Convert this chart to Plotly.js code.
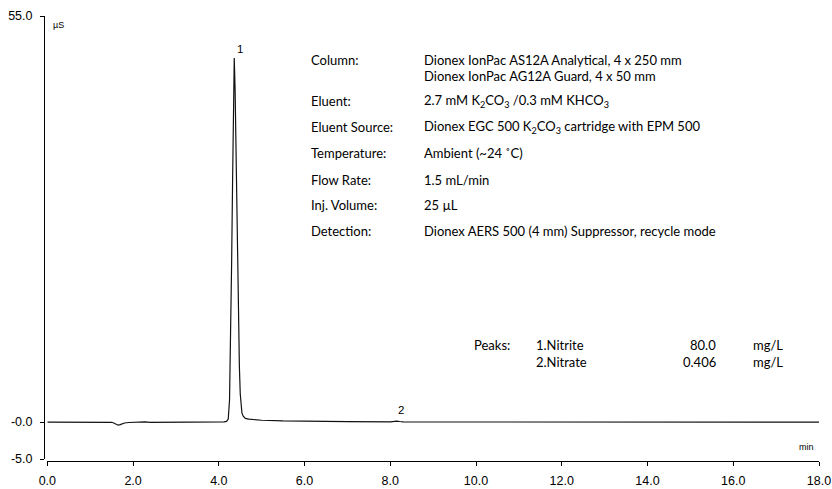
<!DOCTYPE html>
<html>
<head>
<meta charset="utf-8">
<script src="https://cdn.plot.ly/plotly-3.0.1.min.js"></script>
<style>html,body{margin:0;padding:0;background:#fff;}#chart{width:832px;height:489px;}</style>
</head>
<body>
<div id="chart"></div>
<script>
// Chromatogram (time in min, signal in µS)
var timeMin = [0.0, 0.5, 1.0, 1.4, 1.5, 1.55, 1.6, 1.65, 1.7, 1.75, 1.8, 1.9, 2.0, 2.1, 2.17, 2.22, 2.28, 2.4, 2.7, 3.0, 3.5, 4.0, 4.12, 4.18, 4.22, 4.25, 4.28, 4.30, 4.32, 4.34, 4.36, 4.38, 4.40, 4.42, 4.44, 4.46, 4.48, 4.50, 4.52, 4.54, 4.57, 4.62, 4.70, 4.85, 5.0, 5.5, 6.0, 7.0, 8.0, 8.08, 8.15, 8.22, 8.3, 9.0, 10.0, 12.0, 14.0, 16.0, 18.0];
var signalUS = [0.0, 0.0, 0.0, 0.0, -0.03, -0.12, -0.3, -0.42, -0.35, -0.22, -0.12, -0.06, -0.04, -0.03, 0.05, 0.09, 0.02, -0.03, -0.03, -0.02, -0.01, 0.0, 0.03, 0.1, 0.4, 3.0, 12.0, 22.0, 32.0, 43.0, 49.3, 45.0, 36.0, 28.0, 20.0, 13.0, 7.5, 3.8, 2.0, 1.2, 0.8, 0.5, 0.4, 0.3, 0.25, 0.15, 0.1, 0.05, 0.03, 0.08, 0.14, 0.08, 0.03, 0.01, 0.0, 0.0, 0.0, 0.0, 0.0];

var yTickVals = [-5, 0, 55];
var yTickText = ["-5.0", "-0.0", "55.0"];

var peakLabels = ["1", "2"];
var peakTimes = [4.36, 8.15];
var peakHeights = [49.3, 0.14];

var condLabels = ["Column:", "Eluent:", "Eluent Source:", "Temperature:", "Flow Rate:", "Inj. Volume:", "Detection:"];
var condValues = [
  "Dionex IonPac AS12A Analytical, 4 x 250 mm",
  "2.7 mM K<sub>2</sub>CO<sub>3</sub> /0.3 mM KHCO<sub>3</sub>",
  "Dionex EGC 500 K<sub>2</sub>CO<sub>3</sub> cartridge with EPM 500",
  "Ambient (~24 ˚C)",
  "1.5 mL/min",
  "25 µL",
  "Dionex AERS 500 (4 mm) Suppressor, recycle mode"
];
var condExtra = "Dionex IonPac AG12A Guard, 4 x 50 mm";
var peakNames = ["1.Nitrite", "2.Nitrate"];
var peakAmounts = ["80.0", "0.406"];
var peakUnits = ["mg/L", "mg/L"];

// layout helpers: pixel -> paper
var L = 44, R = 819, T = 16, B = 461;
function px(x){ return (x - L) / (R - L); }
function py(y){ return (B - y) / (B - T); }

var infoFont = {family: "Lato, 'Open Sans', sans-serif", size: 13, color: "#000"};
var ann = [];
var rowY = [60, 101, 127, 153, 180, 205, 231];
for (var i = 0; i < condLabels.length; i++) {
  ann.push({xref:"paper", yref:"paper", x:px(309), y:py(rowY[i]), xanchor:"left", yanchor:"middle", showarrow:false, text:condLabels[i], font:infoFont});
  ann.push({xref:"paper", yref:"paper", x:px(422), y:py(rowY[i]), xanchor:"left", yanchor:"middle", showarrow:false, text:condValues[i], font:infoFont});
}
ann.push({xref:"paper", yref:"paper", x:px(422), y:py(76), xanchor:"left", yanchor:"middle", showarrow:false, text:condExtra, font:infoFont});

ann.push({xref:"paper", yref:"paper", x:px(512), y:py(345), xanchor:"right", yanchor:"middle", showarrow:false, text:"Peaks:", font:infoFont});
var pkY = [345, 362];
for (var j = 0; j < peakNames.length; j++) {
  ann.push({xref:"paper", yref:"paper", x:px(534), y:py(pkY[j]), xanchor:"left", yanchor:"middle", showarrow:false, text:peakNames[j], font:infoFont});
  ann.push({xref:"paper", yref:"paper", x:px(718), y:py(pkY[j]), xanchor:"right", yanchor:"middle", showarrow:false, text:peakAmounts[j], font:infoFont});
  ann.push({xref:"paper", yref:"paper", x:px(751), y:py(pkY[j]), xanchor:"left", yanchor:"middle", showarrow:false, text:peakUnits[j], font:infoFont});
}

var smallFont = {family: "'Liberation Sans', Arial, sans-serif", size: 9, color: "#000"};
ann.push({xref:"paper", yref:"paper", x:px(51), y:py(25), xanchor:"left", yanchor:"middle", showarrow:false, text:"µS", font:smallFont});
ann.push({xref:"paper", yref:"paper", x:px(816), y:py(447), xanchor:"right", yanchor:"middle", showarrow:false, text:"min", font:smallFont});

var pkFont = {family: "'Liberation Sans', Arial, sans-serif", size: 11.5, color: "#000"};
for (var k = 0; k < peakLabels.length; k++) {
  ann.push({xref:"x", yref:"y", x:peakTimes[k], y:peakHeights[k], xanchor:"left", yanchor:"bottom", xshift:k===0?1:-1, yshift:k===0?1:3, showarrow:false, text:peakLabels[k], font:pkFont});
}

var trace = {x: timeMin, y: signalUS, type: "scatter", mode: "lines", line: {color: "#111", width: 1.2}, hoverinfo: "skip"};

var tickFont = {family: "'Liberation Sans', Arial, sans-serif", size: 12.5, color: "#000"};
var layout = {
  width: 832, height: 489,
  margin: {l: L, r: 832 - R, t: T, b: 489 - B, pad: 0},
  paper_bgcolor: "#fff", plot_bgcolor: "#fff",
  showlegend: false,
  xaxis: {range: [0, 18], dtick: 2, tick0: 0, tickformat: ".1f", ticks: "outside", ticklen: 4, tickcolor: "#000",
          showline: true, linecolor: "#000", linewidth: 1, showgrid: false, zeroline: false,
          anchor: "free", position: 0, domain: [0.0043, 1], tickfont: tickFont, ticklabelstandoff: 4},
  yaxis: {range: [-5, 55], tickvals: yTickVals, ticktext: yTickText, ticks: "outside", ticklen: 4, tickcolor: "#000",
          showline: true, linecolor: "#000", linewidth: 1, showgrid: false, zeroline: false,
          anchor: "free", position: 0, domain: [0.0045, 1], tickfont: tickFont, ticklabelstandoff: 5},
  annotations: ann
};

Plotly.newPlot("chart", [trace], layout, {staticPlot: true, displayModeBar: false});
</script>
</body>
</html>
